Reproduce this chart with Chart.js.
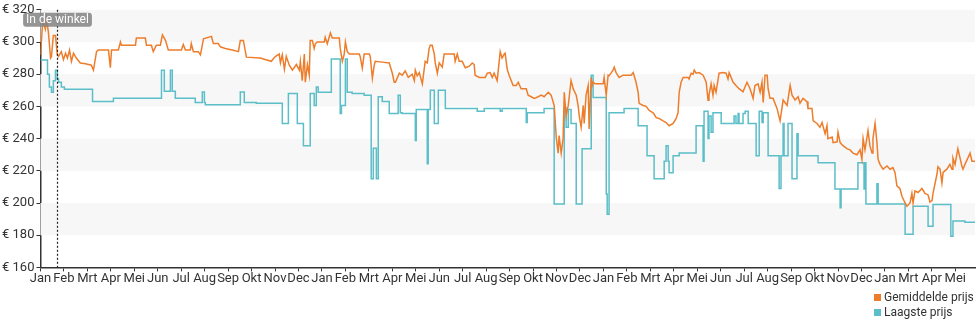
<!DOCTYPE html>
<html>
<head>
<meta charset="utf-8">
<script src="https://cdn.jsdelivr.net/npm/chart.js@4"></script>
<style>
  body { margin: 0; background: #fff; font-family: Roboto, sans-serif; }
  #wrap { position: relative; width: 980px; height: 325px; }
  #legend { position: absolute; left: 874px; top: 290px; font-family: Roboto, sans-serif; font-size: 12px; color: #333; line-height: 15px; }
  #legend .item { white-space: nowrap; }
  #legend .sw { display: inline-block; width: 7px; height: 7px; margin-right: 3px; }
</style>
</head>
<body>
<div id="wrap">
  <canvas id="chart"></canvas>
  <div id="legend"></div>
</div>
<script>
// x = months since the first January
const maanden = ['Jan','Feb','Mrt','Apr','Mei','Jun','Jul','Aug','Sep','Okt','Nov','Dec',
  'Jan','Feb','Mrt','Apr','Mei','Jun','Jul','Aug','Sep','Okt','Nov','Dec',
  'Jan','Feb','Mrt','Apr','Mei','Jun','Jul','Aug','Sep','Okt','Nov','Dec',
  'Jan','Mrt','Apr','Mei'];
const laatsteMaand = 39.84;
const inDeWinkel = 0.72;

const prijsMin = 160, prijsMax = 320, prijsStap = 20;
const grijzeBanden = [[180,200],[220,240],[260,280],[300,320]];

const gemiddeldePrijs = [
  [0,292],[0.085,310],[0.13,312],[0.21,308],[0.26,314],[0.34,306],[0.43,290],[0.47,291],[0.55,304],[0.64,304],
  [0.72,292],[0.77,291],[0.89,294],[0.98,289],[1.07,293],[1.15,290],[1.24,295],[1.32,288],[1.41,293],[1.53,290],
  [1.70,287],[1.92,286.5],[2.17,285.6],[2.26,282.5],[2.39,294],[2.47,295],[2.73,295],[2.90,295],[2.98,284],[3.03,295],
  [3.32,295],[3.41,300],[3.45,298],[4.05,298],[4.09,302.5],[4.47,302.5],[4.52,298],[4.73,298],[4.81,294],[4.94,298],
  [5.11,298],[5.20,304.4],[5.33,301],[5.45,295],[6.01,295],[6.09,298.5],[6.18,295],[6.39,295],[6.43,299],[6.52,294],
  [6.73,294],[6.82,292],[6.95,302],[7.29,303.5],[7.37,299],[7.58,299],[7.67,297],[7.88,296],[8.18,295],[8.44,294],
  [8.52,301],[8.65,301],[8.78,290.6],[9.37,290],[9.84,288],[10.01,291],[10.18,292.5],[10.23,287],[10.31,292],[10.40,283],
  [10.48,291],[10.61,285.6],[10.74,282.5],[10.91,286],[11.04,282.5],[11.08,288],[11.16,276],[11.25,292.5],[11.29,275],[11.38,286],
  [11.46,279.4],[11.50,301],[11.59,301],[11.67,296],[11.72,299],[11.80,300],[12.10,300],[12.14,303],[12.23,299],[12.36,305.6],
  [12.44,302.5],[12.74,302.5],[12.78,296],[12.87,288],[12.95,292.5],[13.00,300],[13.08,294],[13.17,292.5],[13.59,292.5],[13.63,291],
  [13.72,283.8],[13.80,292.5],[14.02,292.5],[14.06,291],[14.15,277.5],[14.23,285.6],[14.27,288],[14.57,287.5],[14.87,287],[15.00,280.6],
  [15.08,275],[15.13,275],[15.30,280.6],[15.42,279.4],[15.55,282],[15.68,278],[15.85,280],[15.94,276],[15.98,282.5],[16.06,279],
  [16.15,281],[16.28,274],[16.40,288],[16.49,287],[16.57,296],[16.62,298],[16.70,298],[16.79,292.5],[16.83,287],[16.92,280.6],
  [17.00,287],[17.13,284.4],[17.21,292.5],[17.64,292.5],[17.68,288],[17.77,292.5],[17.85,288],[17.98,288],[18.11,284],[18.28,285],
  [18.41,287],[18.49,286],[18.53,279.4],[18.71,278],[18.96,278],[19.05,280.6],[19.17,281],[19.26,278],[19.34,280.6],[19.47,276],
  [19.60,294],[19.68,290],[19.77,292.5],[19.81,293],[19.90,283],[19.98,279.4],[20.15,273],[20.28,273],[20.37,275],[20.49,271],
  [20.71,271],[20.79,267],[20.92,266],[21.05,265],[21.22,266],[21.35,267],[21.47,266],[21.65,268.75],[21.77,267],[21.90,260.6],
  [21.99,240.6],[22.07,231],[22.11,241.9],[22.20,231],[22.28,240],[22.33,268.75],[22.41,254],[22.50,260.6],[22.62,276],[22.71,271],
  [22.84,267],[22.92,260.6],[22.97,254],[23.05,247],[23.14,260.6],[23.18,249.4],[23.26,267],[23.35,273],[23.39,246],[23.48,278],
  [23.52,273],[23.56,275],[23.65,274],[23.99,274],[24.03,278],[24.12,267],[24.20,279.4],[24.24,279],[24.41,282.5],[24.46,284.4],
  [24.54,281],[24.67,278],[24.84,279.4],[25.18,279.4],[25.27,281],[25.39,275],[25.48,268.75],[25.52,261.9],[25.69,260.6],[25.82,260],
  [25.95,257.5],[26.12,256],[26.25,253],[26.37,252.5],[26.54,251],[26.67,250],[26.80,248],[26.97,249.4],[27.10,252.5],[27.18,256],
  [27.23,268.75],[27.31,275],[27.40,278],[27.61,278],[27.65,277],[27.74,280.6],[27.82,280],[27.87,282.5],[27.95,280.6],[28.08,281],
  [28.25,279.4],[28.38,275],[28.46,263.75],[28.50,267],[28.59,274],[28.67,267],[28.72,273],[28.80,268.75],[28.93,280.6],[29.10,281],
  [29.23,280.6],[29.31,277],[29.36,281],[29.53,275],[29.65,273],[29.78,271],[29.95,269],[30.12,275],[30.25,271],[30.38,265],
  [30.46,273],[30.59,274],[30.68,268.75],[30.76,275],[30.81,262.5],[30.89,279.4],[30.98,279.4],[31.02,271],[31.10,265],[31.23,265],
  [31.40,258.75],[31.53,251],[31.61,258.75],[31.66,264],[31.83,260.6],[31.96,273],[32.04,267],[32.17,264],[32.30,266],[32.38,262],
  [32.51,265],[32.68,263],[32.72,258.75],[32.89,258.75],[32.94,251],[33.11,249.4],[33.23,247],[33.32,250],[33.45,243],[33.53,248],
  [33.57,240],[33.75,241],[33.79,237.5],[33.96,238],[34.00,244],[34.09,237.5],[34.21,235.6],[34.38,233.75],[34.51,233],[34.64,231],
  [34.81,230],[34.94,233],[35.02,227],[35.07,240],[35.15,233],[35.28,245],[35.36,235.6],[35.45,231],[35.49,240],[35.58,249.4],
  [35.66,237.5],[35.71,227],[35.79,224],[35.92,221],[36.09,223],[36.22,221],[36.34,222],[36.43,219],[36.51,210.6],[36.64,209],
  [36.73,204],[36.86,200],[36.94,198],[37.07,200],[37.15,206],[37.20,200],[37.28,207.5],[37.41,206.5],[37.58,209],[37.71,206],
  [37.84,205],[37.92,200.6],[38.01,201.5],[38.05,206],[38.22,218],[38.26,222.5],[38.35,221],[38.43,212.5],[38.48,219],[38.64,221],
  [38.77,224],[38.86,221],[38.90,228],[38.99,224],[39.11,233.75],[39.28,223],[39.33,221],[39.41,224],[39.54,228],[39.63,231],
  [39.71,226],[39.84,226]
];

// each value holds from its month until the next one
const laagstePrijs = [
  [0,288.75],[0.30,280],[0.38,272],[0.47,268.75],[0.55,276],[0.64,282.5],[0.72,277],[0.77,275],[0.89,272],[1.02,270.6],
  [2.22,263],[3.11,265],[5.16,282.5],[5.28,269.4],[5.54,282.5],[5.62,269.4],[5.75,265],[6.60,262.5],[6.90,269],[6.99,262.5],
  [7.03,261],[8.52,269],[8.69,262.5],[9.20,261.9],[10.31,249.4],[10.57,268],[10.95,249.4],[11.21,235.6],[11.50,268],[11.67,260.6],
  [11.76,272],[11.84,268.75],[12.40,289.4],[12.78,255.6],[12.83,260.6],[13.00,289.4],[13.08,268.75],[13.29,268],[13.80,267],[14.10,215],
  [14.19,234],[14.32,215],[14.40,266],[14.57,263],[14.87,255.6],[15.25,267],[15.34,256],[15.42,255.6],[15.98,238.75],[16.02,258],
  [16.49,224.4],[16.53,258],[16.62,270],[16.79,249.4],[16.96,270],[17.26,258.75],[18.62,257],[18.92,258.75],[19.60,257],[19.68,258.75],
  [20.71,250],[20.75,256],[21.47,258.75],[21.90,199.4],[22.33,259],[22.41,247],[22.50,258],[22.62,249.4],[22.84,199.4],[23.09,233.75],
  [23.48,279.4],[23.56,265.6],[24.12,205.6],[24.16,193],[24.24,256],[24.88,258.75],[25.48,248],[25.86,229.4],[26.16,215],[26.59,226],
  [26.67,235.6],[26.76,226],[26.80,218.75],[26.97,229.4],[27.23,231],[27.95,248],[28.25,226],[28.29,257],[28.46,240],[28.50,254],
  [28.59,244],[28.67,256],[29.02,249.4],[29.57,254],[29.65,249.4],[29.74,255.6],[29.78,249.4],[29.95,255.6],[30.04,257],[30.17,249.4],
  [30.51,229.4],[30.64,257],[30.76,250],[30.81,256],[31.02,229.4],[31.49,209],[31.57,229.4],[31.66,249.4],[31.70,229.4],[31.87,249.4],
  [32.04,215],[32.25,243],[32.30,229.4],[33.15,225],[33.87,208.75],[34.09,197],[34.13,208.75],[34.85,225],[35.11,208.75],[35.15,225],
  [35.19,199.4],[35.66,212],[35.71,199.4],[36.86,180.6],[37.20,198],[37.84,185.6],[38.05,199],[38.81,179.4],[38.90,188.75],[39.41,188],
  [39.84,188]
];

const oranje = '#ee7d2b';
const blauw = '#5bbec8';

const bandenPlugin = {
  id: 'banden',
  beforeDatasetsDraw(chart) {
    const { ctx, chartArea, scales } = chart;
    ctx.save();
    ctx.fillStyle = '#f7f7f7';
    grijzeBanden.forEach(([lo, hi]) => {
      const y1 = scales.y.getPixelForValue(hi);
      const y2 = scales.y.getPixelForValue(lo);
      ctx.fillRect(chartArea.left, y1, chartArea.right - chartArea.left, y2 - y1);
    });
    ctx.restore();
  }
};

const winkelPlugin = {
  id: 'winkel',
  afterDatasetsDraw(chart) {
    const { ctx, chartArea, scales } = chart;
    const x = Math.round(scales.x.getPixelForValue(inDeWinkel)) + 0.5;
    ctx.save();
    ctx.strokeStyle = '#222';
    ctx.lineWidth = 1.2;
    ctx.setLineDash([2, 2]);
    ctx.beginPath();
    ctx.moveTo(x, chartArea.top);
    ctx.lineTo(x, chartArea.bottom);
    ctx.stroke();
    ctx.setLineDash([]);
    ctx.font = '12px Roboto';
    const tekst = 'In de winkel';
    const w = ctx.measureText(tekst).width + 6;
    ctx.fillStyle = 'rgba(130,130,130,0.85)';
    ctx.beginPath();
    ctx.roundRect(x - w / 2, chartArea.top + 3, w, 14, 3);
    ctx.fill();
    ctx.fillStyle = '#fff';
    ctx.textAlign = 'center';
    ctx.textBaseline = 'middle';
    ctx.fillText(tekst, x, chartArea.top + 10.5);
    ctx.restore();
  }
};

Chart.defaults.font.family = 'Roboto';
Chart.defaults.font.size = 13;
Chart.defaults.color = '#333';

const chart = new Chart(document.getElementById('chart'), {
  type: 'line',
  data: {
    datasets: [
      {
        label: 'Gemiddelde prijs',
        data: gemiddeldePrijs.map(([m, p]) => ({ x: m, y: p })),
        borderColor: oranje,
        backgroundColor: oranje,
        borderWidth: 1.5,
        pointRadius: 0,
        tension: 0
      },
      {
        label: 'Laagste prijs',
        data: laagstePrijs.map(([m, p]) => ({ x: m, y: p })),
        borderColor: blauw,
        backgroundColor: blauw,
        borderWidth: 1.5,
        pointRadius: 0,
        stepped: true
      }
    ]
  },
  options: {
    responsive: true,
    maintainAspectRatio: false,
    animation: false,
    layout: { padding: { top: 7, right: 5, bottom: 38, left: 0 } },
    scales: {
      x: {
        type: 'linear',
        min: 0,
        max: laatsteMaand,
        grid: { drawOnChartArea: false, tickLength: 4, color: '#333' },
        border: { color: '#333', width: 1.5 },
        ticks: {
          stepSize: 1,
          autoSkip: false,
          includeBounds: false,
          maxRotation: 0,
          padding: 0,
          callback: (v) => maanden[v] ?? ''
        }
      },
      y: {
        min: prijsMin,
        max: prijsMax,
        grid: { drawOnChartArea: false, tickLength: 4, color: '#333' },
        border: { color: '#333', width: 1.5 },
        ticks: {
          stepSize: prijsStap,
          padding: 2,
          callback: (v) => '€ ' + v
        }
      }
    },
    plugins: {
      legend: { display: false },
      tooltip: { enabled: false }
    }
  },
  plugins: [bandenPlugin, winkelPlugin]
});

document.getElementById('legend').innerHTML = chart.data.datasets.map((d) =>
  `<div class="item"><span class="sw" style="background:${d.borderColor}"></span>${d.label}</div>`
).join('');
</script>
</body>
</html>
